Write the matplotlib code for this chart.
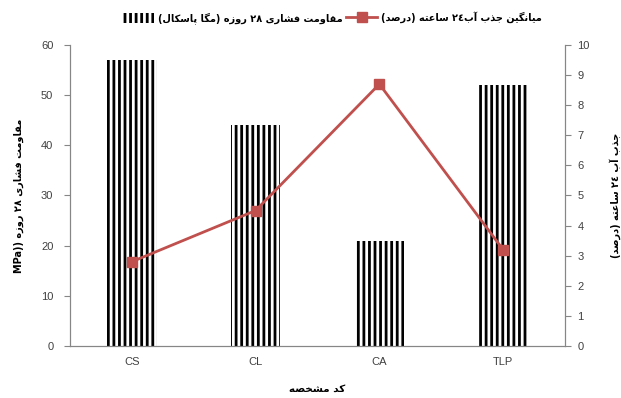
import re
import numpy as np
import matplotlib
matplotlib.use('Agg')
import matplotlib.pyplot as plt

# data
categories = ['CS', 'CL', 'CA', 'TLP']
strength = [57, 44, 21, 52]          # 28-day compressive strength (MPa)
absorption = [2.8, 4.5, 8.7, 3.2]    # 24 h water absorption (%)

# minimal Persian shaping: (isolated, final, initial, medial)
FORMS = {
    'ا': ('\uFE8D', '\uFE8E', None, None),
    'آ': ('\uFE81', '\uFE82', None, None),
    'ب': ('\uFE8F', '\uFE90', '\uFE91', '\uFE92'),
    'پ': ('\uFB56', '\uFB57', '\uFB58', '\uFB59'),
    'ت': ('\uFE95', '\uFE96', '\uFE97', '\uFE98'),
    'ج': ('\uFE9D', '\uFE9E', '\uFE9F', '\uFEA0'),
    'خ': ('\uFEA5', '\uFEA6', '\uFEA7', '\uFEA8'),
    'د': ('\uFEA9', '\uFEAA', None, None),
    'ذ': ('\uFEAB', '\uFEAC', None, None),
    'ر': ('\uFEAD', '\uFEAE', None, None),
    'ز': ('\uFEAF', '\uFEB0', None, None),
    'س': ('\uFEB1', '\uFEB2', '\uFEB3', '\uFEB4'),
    'ش': ('\uFEB5', '\uFEB6', '\uFEB7', '\uFEB8'),
    'ص': ('\uFEB9', '\uFEBA', '\uFEBB', '\uFEBC'),
    'ع': ('\uFEC9', '\uFECA', '\uFECB', '\uFECC'),
    'ف': ('\uFED1', '\uFED2', '\uFED3', '\uFED4'),
    'ق': ('\uFED5', '\uFED6', '\uFED7', '\uFED8'),
    'ک': ('\uFB8E', '\uFB8F', '\uFB90', '\uFB91'),
    'گ': ('\uFB92', '\uFB93', '\uFB94', '\uFB95'),
    'ل': ('\uFEDD', '\uFEDE', '\uFEDF', '\uFEE0'),
    'م': ('\uFEE1', '\uFEE2', '\uFEE3', '\uFEE4'),
    'ن': ('\uFEE5', '\uFEE6', '\uFEE7', '\uFEE8'),
    'ه': ('\uFEE9', '\uFEEA', '\uFEEB', '\uFEEC'),
    'و': ('\uFEED', '\uFEEE', None, None),
    'ی': ('\uFBFC', '\uFBFD', '\uFBFE', '\uFBFF'),
}


def fa(s):
    out = []
    for i, ch in enumerate(s):
        if ch not in FORMS:
            out.append(ch)
            continue
        prev = s[i - 1] if i > 0 else None
        nxt = s[i + 1] if i + 1 < len(s) else None
        jp = prev in FORMS and FORMS[prev][2] is not None
        jn = nxt in FORMS and FORMS[ch][2] is not None
        iso, fin, ini, med = FORMS[ch]
        out.append(med if jp and jn else fin if jp else ini if jn else iso)
    runs = re.findall(r'[0-9\u0660-\u0669\u06F0-\u06F9A-Za-z]+|.', ''.join(out))
    runs.reverse()
    mirror = {'(': ')', ')': '('}
    return ''.join(mirror.get(r, r) for r in runs)


plt.rcParams['font.family'] = ['DejaVu Sans']
plt.rcParams['hatch.linewidth'] = 2.0
plt.rcParams['hatch.color'] = 'black'

fig = plt.figure(figsize=(6.21, 3.98), dpi=100)
ax = fig.add_axes([0.1127, 0.1307, 0.7971, 0.7563])
ax2 = ax.twinx()

x = np.arange(len(categories))
bars = ax.bar(x, strength, width=0.4, facecolor='white', edgecolor='black',
              linewidth=0, hatch='|||',
              label=fa('مقاومت فشاری ۲۸ روزه (مگا پاسکال)'))
line, = ax2.plot(x, absorption, color='#C0504D', lw=2, marker='s', ms=7,
                 label=fa('میانگین جذب آب٢٤ ساعته (درصد)'))

ax.set_xlim(-0.5, 3.5)
ax.set_ylim(0, 60)
ax.set_yticks(range(0, 61, 10))
ax2.set_ylim(0, 10)
ax2.set_yticks(range(0, 11))
ax.set_xticks(x)
ax.set_xticklabels(categories)

for a in (ax, ax2):
    a.spines['top'].set_visible(False)
    for s in ('left', 'right', 'bottom'):
        a.spines[s].set_color('#868686')
        a.spines[s].set_linewidth(0.8)
    a.tick_params(axis='y', colors='#868686', length=4, width=0.8,
                  labelcolor='#404040', labelsize=8)
ax.tick_params(axis='x', length=0, labelcolor='#404040', labelsize=8, pad=8)
ax.tick_params(axis='y', pad=8)
ax2.tick_params(axis='y', pad=5)
for lab in ax.get_yticklabels() + ax2.get_yticklabels() + ax.get_xticklabels():
    lab.set_family('Liberation Sans')

ax.set_ylabel('MPa)) ' + fa('مقاومت فشاری ٢٨ روزه'), fontsize=7,
              fontweight='bold', labelpad=12)
ax2.set_ylabel(fa('جذب آب ٢٤ ساعته (درصد)'), fontsize=7, fontweight='bold',
               rotation=90, labelpad=14)
ax.set_xlabel(fa('کد مشخصه'), fontsize=7.5, fontweight='bold', labelpad=12)

fig.legend([bars, line], [bars.get_label(), line.get_label()], ncol=2,
           loc='center', bbox_to_anchor=(0.535, 0.955), frameon=False,
           prop={'size': 7, 'weight': 'bold'}, handlelength=3.2,
           handleheight=1.2, columnspacing=0.4, handletextpad=0.4)

fig.savefig('out.png', dpi=100)
